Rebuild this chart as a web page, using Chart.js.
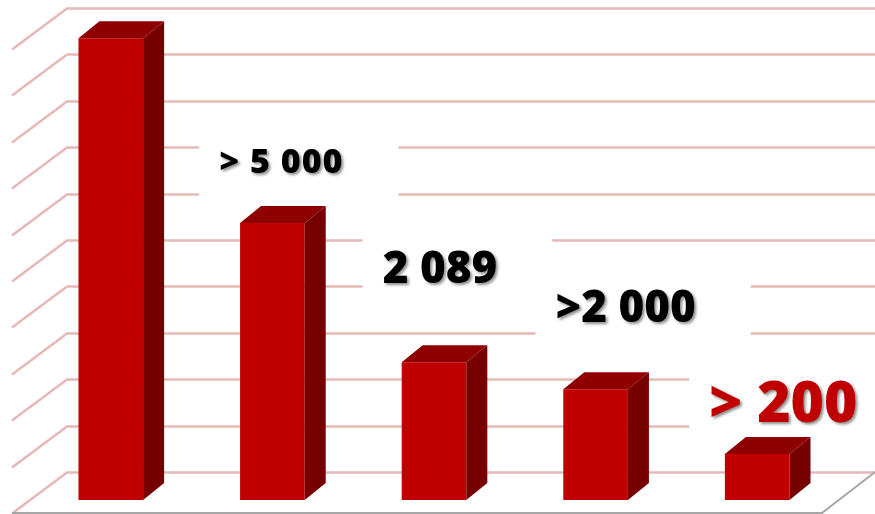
<!DOCTYPE html>
<html>
<head>
<meta charset="utf-8">
<script src="https://cdn.jsdelivr.net/npm/chart.js@4/dist/chart.umd.min.js"></script>
<style>
  body { margin: 0; background: #fff; }
  canvas { display: block; }
</style>
</head>
<body>
<canvas id="chart" width="875" height="514"></canvas>
<script>
// data
const categories = ['1', '2', '3', '4', '5'];
const values = [9950, 5970, 2970, 2385, 990];
const valueLabels = ['', '> 5 000', '2 089', '>2 000', '> 200'];
const yTicks = [0, 1000, 2000, 3000, 4000, 5000, 6000, 7000, 8000, 9000, 10000];

// looks
const FRONT = '#c00000';
const TOP = '#8f0000';
const SIDE = '#760000';
const GRID = 'rgba(222, 160, 160, 0.75)';
const DEPTH_X = 21, DEPTH_Y = 17;      // bar depth
const WALL_LEFT = 67, WALL_SHIFT = 28;  // back wall
const FLOOR_DX = 55, FLOOR_DY = 41;

// where each label sits, relative to its bar (top centre)
const labelStyle = [
  null,
  { dx: 9, dy: -50, size: 34, spacing: 1, color: '#000' },
  { dx: 6, dy: -79, size: 44, spacing: 0, color: '#000' },
  { dx: 30, dy: -67, size: 44, spacing: 0, color: '#000' },
  { dx: 26, dy: -32, size: 57, spacing: 0, color: FRONT }
];

function labelBox(ctx, bar, i) {
  const st = labelStyle[i];
  ctx.font = '800 ' + st.size + 'px "Open Sans"';
  ctx.letterSpacing = st.spacing + 'px';
  const w = ctx.measureText(valueLabels[i]).width;
  const cx = bar.x + st.dx;
  const base = bar.y + st.dy;
  const capH = st.size * 0.714;
  return { cx, base, w, capH, left: cx - w / 2 };
}

const scene3d = {
  id: 'scene3d',
  beforeDatasetsDraw(chart) {
    const ctx = chart.ctx;
    const y = chart.scales.y;
    const W = chart.width;
    ctx.save();
    // back wall + left wall grid
    ctx.strokeStyle = GRID;
    ctx.lineWidth = 2.5;
    yTicks.forEach(v => {
      const wy = Math.round(y.getPixelForValue(v) - WALL_SHIFT) + 0.5;
      ctx.beginPath();
      ctx.moveTo(WALL_LEFT - FLOOR_DX, wy + FLOOR_DY);
      ctx.lineTo(WALL_LEFT, wy);
      ctx.lineTo(W, wy);
      ctx.stroke();
    });
    // floor edge
    const fy = y.getPixelForValue(0) - WALL_SHIFT + FLOOR_DY;
    ctx.strokeStyle = '#a6a6a6';
    ctx.lineWidth = 2;
    ctx.beginPath();
    ctx.moveTo(WALL_LEFT - FLOOR_DX, fy);
    ctx.lineTo(W - FLOOR_DX + 2, fy);
    ctx.lineTo(W, fy - FLOOR_DY);
    ctx.stroke();

    // white boxes behind the labels (they hide the grid)
    const meta = chart.getDatasetMeta(0);
    ctx.fillStyle = '#fff';
    meta.data.forEach((bar, i) => {
      if (!valueLabels[i]) return;
      const b = labelBox(ctx, bar, i);
      const mid = b.base - b.capH / 2;
      ctx.fillRect(b.left - 20, mid - 45, b.w + 75, 90);
    });
    ctx.restore();
  },
  afterDatasetsDraw(chart) {
    const ctx = chart.ctx;
    const meta = chart.getDatasetMeta(0);
    ctx.save();
    meta.data.forEach((bar, i) => {
      const l = bar.x - bar.width / 2;
      const r = bar.x + bar.width / 2;
      const t = bar.y, b = bar.base;
      // side face
      ctx.fillStyle = SIDE;
      ctx.beginPath();
      ctx.moveTo(r, t);
      ctx.lineTo(r + DEPTH_X, t - DEPTH_Y);
      ctx.lineTo(r + DEPTH_X, b - DEPTH_Y);
      ctx.lineTo(r, b);
      ctx.closePath();
      ctx.fill();
      // top face
      ctx.fillStyle = TOP;
      ctx.beginPath();
      ctx.moveTo(l, t);
      ctx.lineTo(l + DEPTH_X, t - DEPTH_Y);
      ctx.lineTo(r + DEPTH_X, t - DEPTH_Y);
      ctx.lineTo(r, t);
      ctx.closePath();
      ctx.fill();
    });
    // value labels with a soft shadow
    meta.data.forEach((bar, i) => {
      if (!valueLabels[i]) return;
      const b = labelBox(ctx, bar, i);
      ctx.fillStyle = labelStyle[i].color;
      ctx.textAlign = 'center';
      ctx.textBaseline = 'alphabetic';
      ctx.shadowColor = 'rgba(0,0,0,0.45)';
      ctx.shadowOffsetX = 2;
      ctx.shadowOffsetY = 2;
      ctx.shadowBlur = 3;
      ctx.fillText(valueLabels[i], b.cx, b.base);
    });
    ctx.restore();
  }
};

new Chart(document.getElementById('chart'), {
  type: 'bar',
  data: {
    labels: categories,
    datasets: [{
      data: values,
      backgroundColor: FRONT,
      borderWidth: 0,
      barPercentage: 0.4,
      categoryPercentage: 1
    }]
  },
  options: {
    responsive: false,
    animation: false,
    devicePixelRatio: 1,
    layout: { padding: { left: 30, right: 37, top: 36, bottom: 14 } },
    plugins: { legend: { display: false }, tooltip: { enabled: false } },
    scales: {
      x: { display: false },
      y: { display: false, min: 0, max: 10000 }
    }
  },
  plugins: [scene3d]
});
</script>
</body>
</html>
